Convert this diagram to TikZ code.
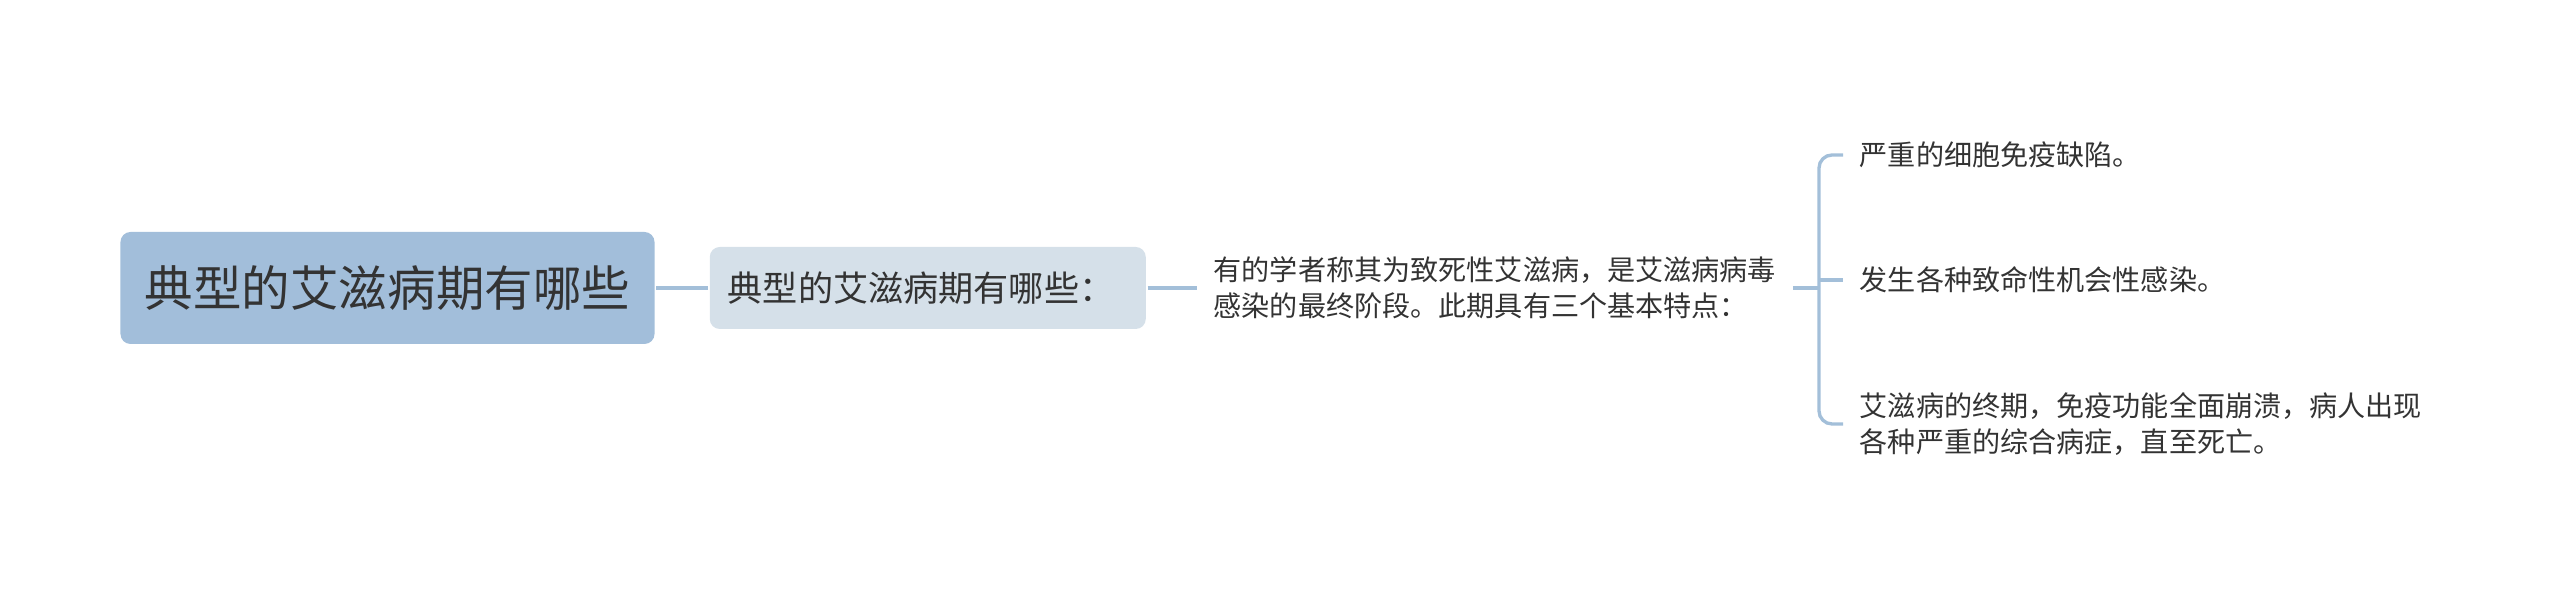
\documentclass[tikz,border=0pt]{standalone}
\usepackage{fontspec}
\newfontfamily\cjk{Noto Sans CJK SC}
\usepackage{tikz}
\definecolor{rootblue}{RGB}{162,190,218}
\definecolor{subblue}{RGB}{213,224,233}
\definecolor{linkblue}{RGB}{163,191,217}
\definecolor{textgray}{RGB}{51,51,51}

\begin{document}
\begin{tikzpicture}[x=0.1mm, y=-0.1mm, line width=1pt,
    link/.style={draw=linkblue, line width=0.95pt},
    rootbox/.style={fill=rootblue, rounded corners=1mm, inner xsep=2.45mm, minimum height=11.2mm,
        text=textgray, font=\cjk\fontsize{13.8pt}{16pt}\selectfont},
    subbox/.style={fill=subblue, rounded corners=1mm, inner xsep=1.8mm, minimum height=8.2mm,
        text width=40mm, align=left, text=textgray, font=\cjk\fontsize{10pt}{12pt}\selectfont},
    plaintext/.style={inner xsep=1.5mm, align=left, text=textgray,
        font=\cjk\fontsize{8pt}{10.3pt}\selectfont}]
    \useasboundingbox (0, 0) rectangle (2560, 595);

    % draw root and sub topic
    \node[rootbox] (root) at (387.5, 288) {典型的艾滋病期有哪些};
    \node[subbox, anchor=west] (sub) at (708, 288) {典型的艾滋病期有哪些：};

    % draw description
    \node[plaintext, anchor=west] (desc) at (1197, 288)
        {有的学者称其为致死性艾滋病，是艾滋病病毒\\感染的最终阶段。此期具有三个基本特点：};

    % draw leaves
    \node[plaintext, anchor=west] (leafa) at (1843, 155) {严重的细胞免疫缺陷。};
    \node[plaintext, anchor=west] (leafb) at (1843, 280) {发生各种致命性机会性感染。};
    \node[plaintext, anchor=west] (leafc) at (1843, 424)
        {艾滋病的终期，免疫功能全面崩溃，病人出现\\各种严重的综合病症，直至死亡。};

    % draw connectors
    \draw[link] (root.east) -- (sub.west);
    \draw[link] (sub.east) -- (desc.west);
    \coordinate (fork) at (1819, 288);
    \draw[link] (desc.east) -- (fork);
    \draw[link, rounded corners=1.3mm] (leafa.west) -| (fork) |- (leafc.west);
    \draw[link] (fork |- leafb.west) -- (leafb.west);
\end{tikzpicture}
\end{document}
